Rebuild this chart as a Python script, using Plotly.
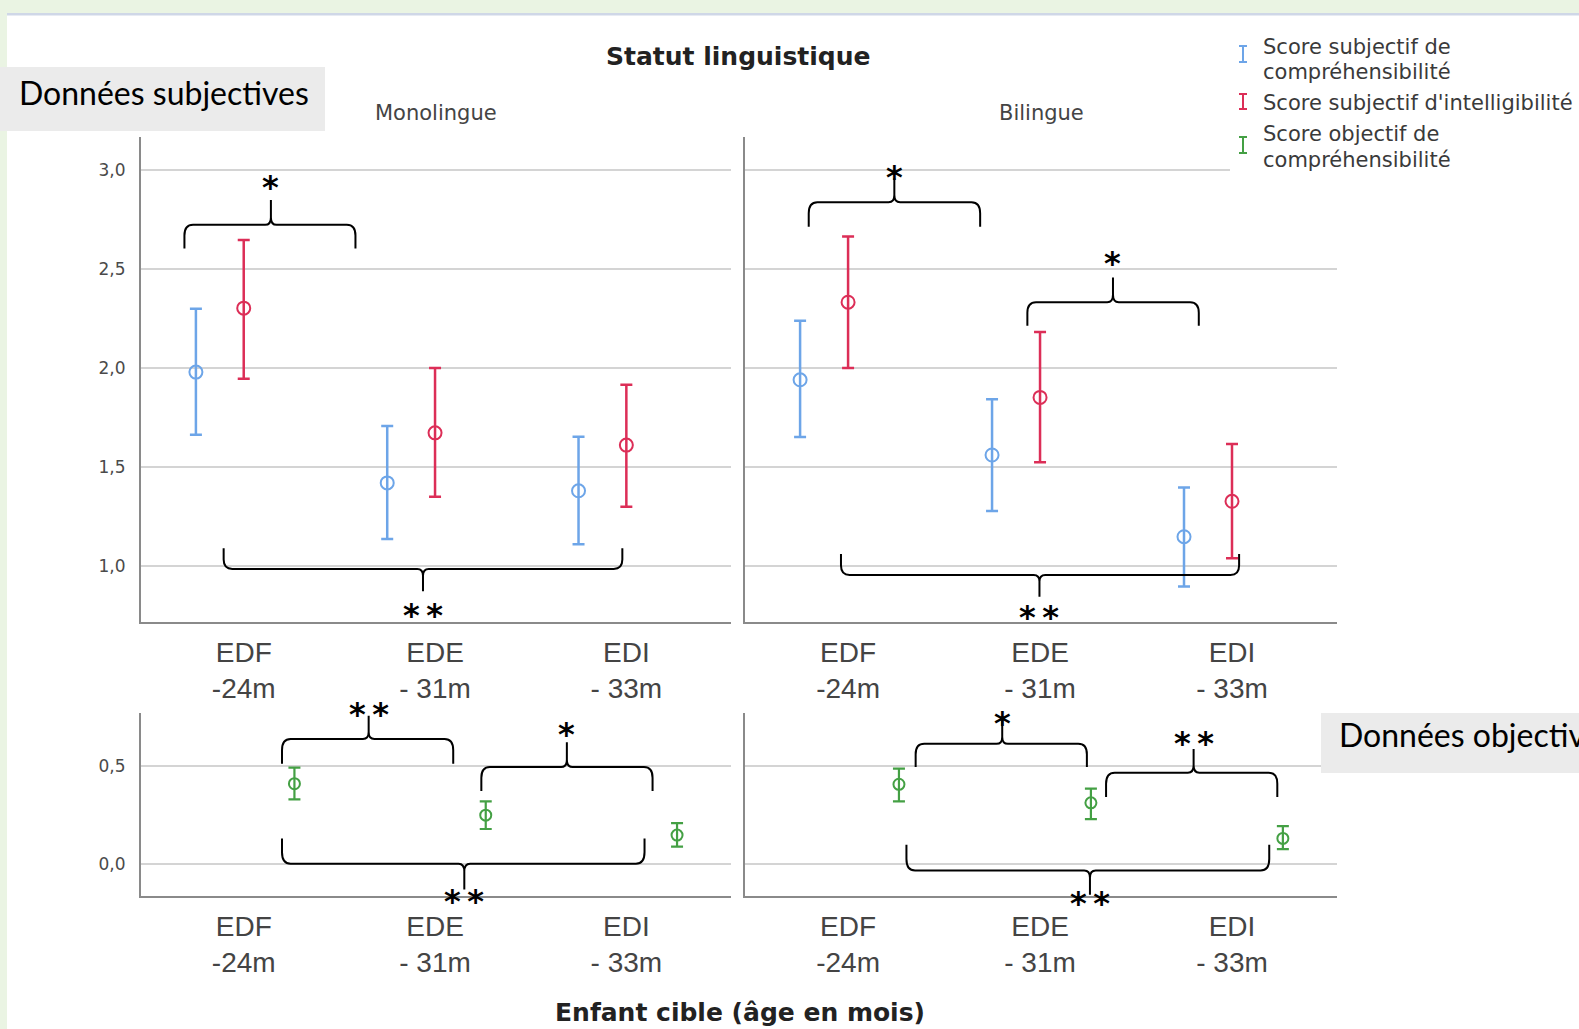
import plotly.graph_objects as go

W, H = 1579, 1029

# ---------------- data ----------------
categories = ["EDF<br>-24m", "EDE<br>- 31m", "EDI<br>- 33m"]
cat_pos = [0, 1, 2]

# Monolingue - subjective scores
mono_comp_mean = [1.98, 1.42, 1.38]
mono_comp_upper = [2.30, 1.707, 1.653]
mono_comp_lower = [1.663, 1.136, 1.11]

mono_intel_mean = [2.303, 1.673, 1.611]
mono_intel_upper = [2.648, 2.00, 1.916]
mono_intel_lower = [1.946, 1.35, 1.30]

# Bilingue - subjective scores
bi_comp_mean = [1.941, 1.561, 1.148]
bi_comp_upper = [2.239, 1.843, 1.397]
bi_comp_lower = [1.652, 1.278, 0.897]

bi_intel_mean = [2.333, 1.852, 1.327]
bi_intel_upper = [2.665, 2.182, 1.616]
bi_intel_lower = [2.00, 1.524, 1.039]

# Objective comprehensibility
mono_obj_mean = [0.41, 0.249, 0.147]
mono_obj_upper = [0.492, 0.32, 0.208]
mono_obj_lower = [0.33, 0.178, 0.088]

bi_obj_mean = [0.407, 0.312, 0.13]
bi_obj_upper = [0.487, 0.385, 0.193]
bi_obj_lower = [0.32, 0.229, 0.075]

top_ticks = [1.0, 1.5, 2.0, 2.5, 3.0]
bottom_ticks = [0.0, 0.5]

series_names = [["Score subjectif de", "compréhensibilité"],
                ["Score subjectif d'intelligibilité"],
                ["Score objectif de", "compréhensibilité"]]

# significance braces: (x0, x1, y_line, y_end, x_cusp, y_cusp, label, y_label)
braces_mono_top = [(-0.31, 0.584, 2.724, 2.604, 0.142, 2.85, "*", 2.95),
                   (-0.105, 1.979, 0.985, 1.09, 0.937, 0.872, "**", 0.79)]
braces_bi_top = [(-0.205, 0.688, 2.838, 2.714, 0.241, 2.96, "*", 3.0),
                 (0.934, 1.827, 2.333, 2.214, 1.38, 2.458, "*", 2.565),
                 (-0.037, 2.037, 0.955, 1.061, 0.997, 0.845, "**", 0.78)]
braces_mono_bot = [(0.2, 1.095, 0.639, 0.512, 0.653, 0.758, "**", 0.805),
                   (1.242, 2.137, 0.495, 0.373, 1.689, 0.622, "*", 0.70),
                   (0.2, 2.095, 0.0, 0.13, 1.153, -0.132, "**", -0.155)]
braces_bi_bot = [(0.352, 1.244, 0.614, 0.495, 0.803, 0.732, "*", 0.755),
                 (1.344, 2.236, 0.466, 0.342, 1.80, 0.588, "**", 0.656),
                 (0.304, 2.194, -0.034, 0.097, 1.26, -0.158, "**", -0.165)]

# ---------------- style ----------------
BLUE, RED, GREEN = "#6DA5E8", "#DC2E57", "#44A044"
OFFSETS = [-0.25, 0.0, 0.265]
AXIS_COLOR = "#8a8a8a"
GRID_COLOR = "#d4d4d4"
TICK_FONT = dict(family="Liberation Sans, Arial", size=28, color="#444444")
YTICK_FONT = dict(family="DejaVu Sans", size=17, color="#4a4a4a")


def px_x(px):
    return px / W


def px_y(py):
    return 1 - py / H


fig = go.Figure()


def add_series(xa, ya, mean, upper, lower, color, offset, msize, thick):
    fig.add_trace(go.Scatter(
        x=[c + offset for c in cat_pos], y=mean, mode="markers",
        xaxis=xa, yaxis=ya, showlegend=False,
        marker=dict(symbol="circle-open", size=msize, color=color,
                    line=dict(width=2, color=color)),
        error_y=dict(type="data", symmetric=False,
                     array=[u - m for u, m in zip(upper, mean)],
                     arrayminus=[m - l for m, l in zip(mean, lower)],
                     color=color, thickness=thick, width=6),
    ))


add_series("x", "y", mono_comp_mean, mono_comp_upper, mono_comp_lower, BLUE, OFFSETS[0], 13, 2.5)
add_series("x", "y", mono_intel_mean, mono_intel_upper, mono_intel_lower, RED, OFFSETS[1], 13, 2.5)
add_series("x2", "y2", bi_comp_mean, bi_comp_upper, bi_comp_lower, BLUE, OFFSETS[0], 13, 2.5)
add_series("x2", "y2", bi_intel_mean, bi_intel_upper, bi_intel_lower, RED, OFFSETS[1], 13, 2.5)
add_series("x3", "y3", mono_obj_mean, mono_obj_upper, mono_obj_lower, GREEN, OFFSETS[2], 11, 2.2)
add_series("x4", "y4", bi_obj_mean, bi_obj_upper, bi_obj_lower, GREEN, OFFSETS[2], 11, 2.2)

# ---------------- axes ----------------
X_LEFT = [px_x(141), px_x(731)]
X_RIGHT = [px_x(745), px_x(1337)]
Y_TOP = [px_y(622), px_y(137)]
Y_BOT = [px_y(896), px_y(713)]
XRANGE = [-0.537, 2.547]
YRANGE_TOP = [0.717, 3.168]
YRANGE_BOT = [-0.165, 0.772]


def xaxis(domain, anchor):
    return dict(domain=domain, anchor=anchor, range=XRANGE, tickvals=cat_pos,
                ticktext=categories, showline=True, linecolor=AXIS_COLOR,
                linewidth=2, showgrid=False, zeroline=False, ticks="",
                tickfont=TICK_FONT, ticklabelstandoff=4, fixedrange=True)


def yaxis(domain, anchor, rng, ticks, labels):
    return dict(domain=domain, anchor=anchor, range=rng, tickvals=ticks,
                tickformat=".1f", showticklabels=labels, showline=True,
                linecolor=AXIS_COLOR, linewidth=2, showgrid=True,
                gridcolor=GRID_COLOR, gridwidth=2, zeroline=False, ticks="",
                tickfont=YTICK_FONT, ticklabelstandoff=10, fixedrange=True)


fig.update_layout(
    width=W, height=H, margin=dict(l=0, r=0, t=0, b=0),
    paper_bgcolor="white", plot_bgcolor="white", separators=",.",
    showlegend=False,
    xaxis=xaxis(X_LEFT, "y"), yaxis=yaxis(Y_TOP, "x", YRANGE_TOP, top_ticks, True),
    xaxis2=xaxis(X_RIGHT, "y2"), yaxis2=yaxis(Y_TOP, "x2", YRANGE_TOP, top_ticks, False),
    xaxis3=xaxis(X_LEFT, "y3"), yaxis3=yaxis(Y_BOT, "x3", YRANGE_BOT, bottom_ticks, True),
    xaxis4=xaxis(X_RIGHT, "y4"), yaxis4=yaxis(Y_BOT, "x4", YRANGE_BOT, bottom_ticks, False),
)

shapes = []
annotations = []

# page background bands
shapes.append(dict(type="rect", xref="paper", yref="paper", x0=0, x1=1,
                   y0=px_y(13), y1=1, fillcolor="#EAF4E3", line_width=0, layer="above"))
shapes.append(dict(type="rect", xref="paper", yref="paper", x0=0, x1=px_x(7),
                   y0=0, y1=1, fillcolor="#EAF4E3", line_width=0, layer="above"))
shapes.append(dict(type="rect", xref="paper", yref="paper", x0=px_x(7), x1=1,
                   y0=px_y(15.5), y1=px_y(13), fillcolor="#CFD7E7", line_width=0, layer="above"))


def brace_path(x0, x1, y, yend, xc, yc, dx=0.045, cdx=0.03):
    ym0 = y + (yend - y) * 0.45
    ymc = y + (yc - y) * 0.3
    return (f"M{x0},{yend} L{x0},{ym0} Q{x0},{y} {x0 + dx},{y} "
            f"L{xc - cdx},{y} Q{xc},{y} {xc},{ymc} L{xc},{yc} "
            f"L{xc},{ymc} Q{xc},{y} {xc + cdx},{y} "
            f"L{x1 - dx},{y} Q{x1},{y} {x1},{ym0} L{x1},{yend}")


def to_paper(v, rng, dom):
    return dom[0] + (v - rng[0]) / (rng[1] - rng[0]) * (dom[1] - dom[0])


for xa, ya, xdom, ydom, yrng, blist in [
        ("x", "y", X_LEFT, Y_TOP, YRANGE_TOP, braces_mono_top),
        ("x2", "y2", X_RIGHT, Y_TOP, YRANGE_TOP, braces_bi_top),
        ("x3", "y3", X_LEFT, Y_BOT, YRANGE_BOT, braces_mono_bot),
        ("x4", "y4", X_RIGHT, Y_BOT, YRANGE_BOT, braces_bi_bot)]:
    for (x0, x1, y, yend, xc, yc, lab, ylab) in blist:
        shapes.append(dict(type="path", xref=xa, yref=ya,
                           path=brace_path(x0, x1, y, yend, xc, yc),
                           line=dict(color="black", width=2), layer="above"))
        annotations.append(dict(xref="paper", yref="paper",
                                x=to_paper(xc, XRANGE, xdom), y=to_paper(ylab, yrng, ydom),
                                text="<b>" + lab.replace("**", "*\u2009*") + "</b>",
                                showarrow=False, xanchor="center", yanchor="middle",
                                yshift=-7,
                                font=dict(family="DejaVu Sans", size=32, color="black")))

# legend background (white) and items
shapes.append(dict(type="rect", xref="paper", yref="paper", x0=px_x(1230), x1=1,
                   y0=px_y(176), y1=px_y(28), fillcolor="white", line_width=0, layer="above"))

legend_icons = [(BLUE, 46, 62), (RED, 94, 109), (GREEN, 137, 153)]
legend_text_y = [[47, 72], [103], [134, 160]]
ICON_X = 1243
for (col, t, b), lines, ys in zip(legend_icons, series_names, legend_text_y):
    shapes.append(dict(type="line", xref="paper", yref="paper", x0=px_x(ICON_X), x1=px_x(ICON_X),
                       y0=px_y(b), y1=px_y(t), line=dict(color=col, width=2), layer="above"))
    for yy in (t, b):
        shapes.append(dict(type="line", xref="paper", yref="paper", x0=px_x(ICON_X - 4),
                           x1=px_x(ICON_X + 4), y0=px_y(yy), y1=px_y(yy),
                           line=dict(color=col, width=2), layer="above"))
    for line, yy in zip(lines, ys):
        annotations.append(dict(xref="paper", yref="paper", x=px_x(1261), y=px_y(yy),
                                text=line, showarrow=False, xanchor="left", yanchor="middle",
                                font=dict(family="DejaVu Sans", size=21, color="#3a3a3a")))

# grey label boxes
shapes.append(dict(type="rect", xref="paper", yref="paper", x0=0, x1=px_x(325),
                   y0=px_y(131), y1=px_y(67), fillcolor="#EBEBEB", line_width=0, layer="above"))
shapes.append(dict(type="rect", xref="paper", yref="paper", x0=px_x(1321), x1=1,
                   y0=px_y(773), y1=px_y(713), fillcolor="#EBEBEB", line_width=0, layer="above"))
annotations.append(dict(xref="paper", yref="paper", x=px_x(17), y=px_y(92),
                        text="Données subjectives", showarrow=False, xanchor="left",
                        yanchor="middle", font=dict(family="Lato", size=32, color="black")))
annotations.append(dict(xref="paper", yref="paper", x=px_x(1337), y=px_y(734),
                        text="Données objectives", showarrow=False, xanchor="left",
                        yanchor="middle", font=dict(family="Lato", size=32, color="black")))

# titles
annotations.append(dict(xref="paper", yref="paper", x=px_x(738), y=px_y(57),
                        text="<b>Statut linguistique</b>", showarrow=False,
                        xanchor="center", yanchor="middle",
                        font=dict(family="DejaVu Sans", size=25, color="#222222")))
annotations.append(dict(xref="paper", yref="paper", x=px_x(436), y=px_y(113),
                        text="Monolingue", showarrow=False, xanchor="center", yanchor="middle",
                        font=dict(family="DejaVu Sans", size=21, color="#444444")))
annotations.append(dict(xref="paper", yref="paper", x=px_x(1041), y=px_y(113),
                        text="Bilingue", showarrow=False, xanchor="center", yanchor="middle",
                        font=dict(family="DejaVu Sans", size=21, color="#444444")))
annotations.append(dict(xref="paper", yref="paper", x=px_x(740), y=px_y(1012),
                        text="<b>Enfant cible (âge en mois)</b>", showarrow=False,
                        xanchor="center", yanchor="middle",
                        font=dict(family="DejaVu Sans", size=25, color="#222222")))

fig.update_layout(shapes=shapes, annotations=annotations)
fig.write_html("out.html")
